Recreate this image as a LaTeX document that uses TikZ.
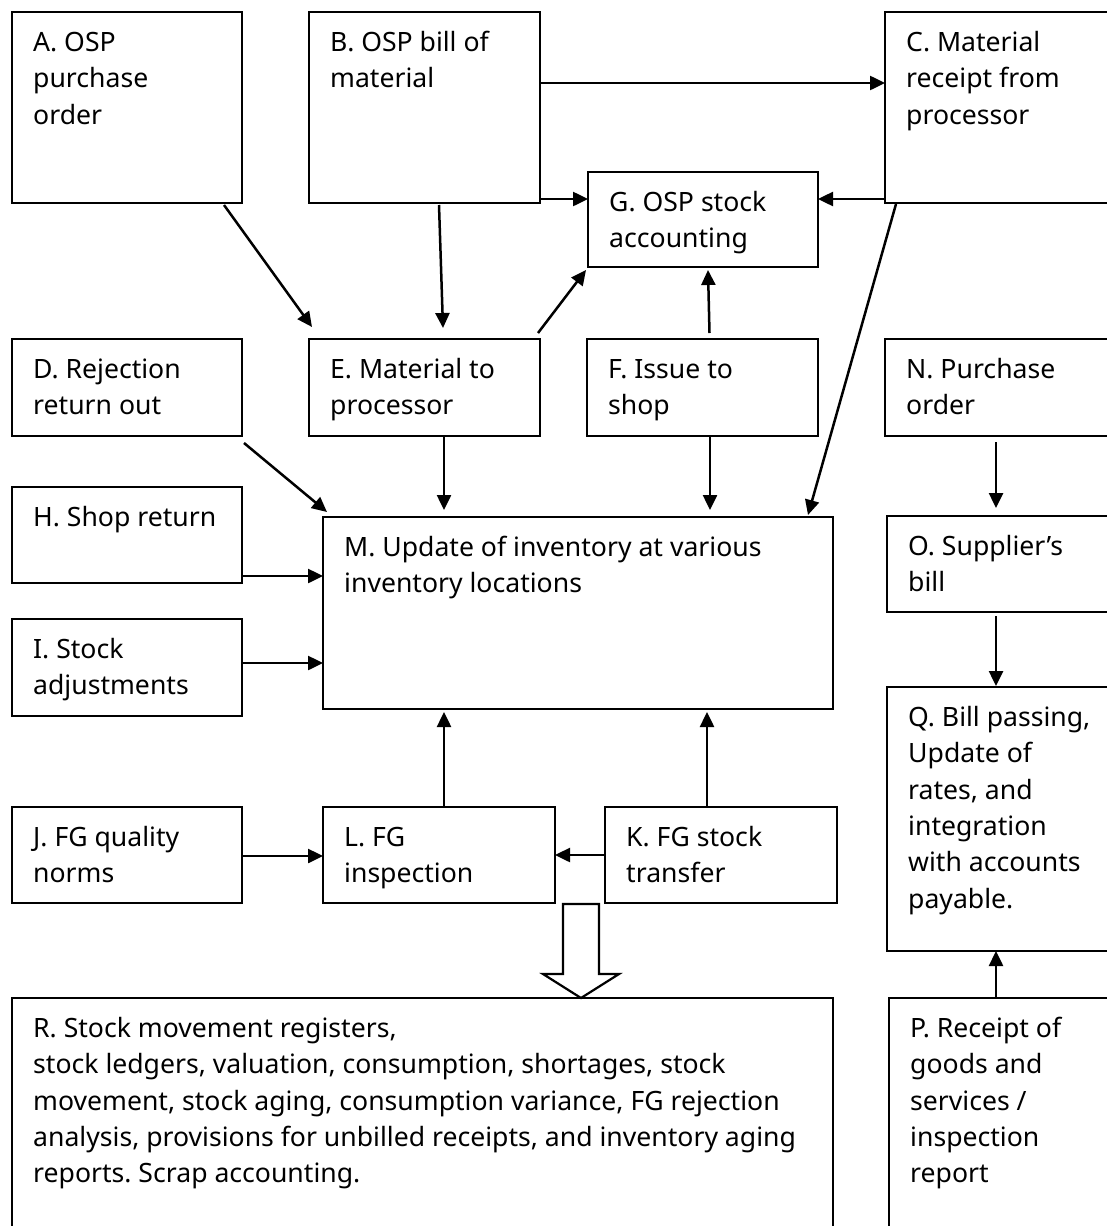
\documentclass[tikz,border=0pt]{standalone}
\usepackage{fontspec}
\setmainfont{Noto Sans}
\usetikzlibrary{arrows.meta,calc}

% process box: name, left, top, right, bottom, text (page units, y grows downward)
\newcommand\procbox[6]{%
  \node[box, minimum width={(#4-#2)*1pt}, minimum height={(#5-#3)*1pt}] (#1) at (#2,-#3) {};
  \node[lbl] (#1t) at ($(#1.north west)+(21,-39.5)$)
    {\begin{tabular}[t]{@{}l@{}}#6\end{tabular}};}

\begin{document}
\frenchspacing
\begin{tikzpicture}[x=1pt,y=1pt,
  box/.style={draw, line width=2.9pt, rectangle, inner sep=0pt, outer sep=0pt, anchor=north west},
  lbl/.style={anchor=base west, inner sep=0pt,
              font=\fontsize{26.6}{36.3}\selectfont},
  arr/.style={line width=2.5pt, -{Triangle[length=15pt,width=14pt]}},
  hollow/.style={draw, line width=2.2pt, line join=miter, fill=white}]

\fill[white] (0,0) rectangle (1107,-1226);
\clip (0,0) rectangle (1107,-1226);

% boxes
\procbox{A}{12}{12}{242}{203}{A. OSP\\purchase\\order}
\procbox{B}{309}{12}{540}{203}{B. OSP bill of\\material}
\procbox{C}{885}{12}{1125}{203}{C. Material\\receipt from\\processor}
\procbox{G}{588}{172}{818}{267}{G. OSP stock\\accounting}
\procbox{D}{12}{339}{242}{436}{D. Rejection\\return out}
\procbox{E}{309}{339}{540}{436}{E. Material to\\processor}
\procbox{F}{587}{339}{818}{436}{F. Issue to\\shop}
\procbox{N}{885}{339}{1125}{436}{N. Purchase\\order}
\procbox{H}{12}{487}{242}{583}{H. Shop return}
\procbox{M}{323}{517}{833}{709}{M. Update of inventory at various\\inventory locations}
\procbox{O}{887}{516}{1125}{612}{O. Supplier’s\\bill}
\procbox{I}{12}{619}{242}{716}{I. Stock\\adjustments}
\procbox{Q}{887}{687}{1125}{951}{Q. Bill passing,\\Update of\\rates, and\\integration\\with accounts\\payable.}
\procbox{J}{12}{807}{242}{903}{J. FG quality\\norms}
\procbox{L}{323}{807}{555}{903}{L. FG\\inspection}
\procbox{K}{605}{807}{837}{903}{K. FG stock\\transfer}
\procbox{R}{12}{998}{833}{1245}{R. Stock movement registers,\\stock ledgers, valuation, consumption, shortages, stock\\movement, stock aging, consumption variance, FG rejection\\analysis, provisions for unbilled receipts, and inventory aging\\reports. Scrap accounting.}
\procbox{P}{889}{998}{1125}{1245}{P. Receipt of\\goods and\\services /\\inspection\\report}

% connectors
\draw[arr] ($(B.east)+(0,24.5)$) -- ($(C.west)+(0,24.5)$);
\draw[arr] ($(B.east)+(0,-91.5)$) coordinate (bg) -- (bg -| G.west);
\draw[arr] ($(C.west)+(0,-91.5)$) coordinate (cg) -- (cg -| G.east);
\draw[arr] ($(A.south west)+(212,-2)$) -- ($(E.north west)+(3,12)$);
\draw[arr] ($(B.south west)+(130,-2)$) -- ($(E.north west)+(134,11)$);
\draw[arr] ($(E.north east)+(-2,6)$) -- ($(G.south west)+(-2,-3)$);
\draw[arr] ($(F.north)+(7,6)$) -- ($(G.south)+(5,-3)$);
\draw[arr] ($(C.south west)+(11,-1)$) -- ($(M.north east)+(-25,2)$);
\draw[arr] ($(D.south east)+(2,-7)$) -- ($(M.north west)+(4,5)$);
\draw[arr] ($(E.south)+(19.5,0)$) coordinate (em) -- ($(em |- M.north)+(0,7)$);
\draw[arr] ($(F.south)+(7.5,0)$) coordinate (fm) -- ($(fm |- M.north)+(0,7)$);
\draw[arr] ($(H.east)+(0,-41)$) coordinate (hm) -- (hm -| M.west);
\draw[arr] ($(I.east)+(0,4.5)$) coordinate (im) -- (im -| M.west);
\draw[arr] ($(L.north)+(5,0)$) coordinate (lm) -- ($(lm |- M.south)+(0,-3)$);
\draw[arr] ($(K.north)+(-14,0)$) coordinate (km) -- ($(km |- M.south)+(0,-3)$);
\draw[arr] ($(J.east)+(0,-1)$) coordinate (jl) -- (jl -| L.west);
\draw[arr] (K.west) -- (K.west -| L.east);
\draw[arr] ($(N.south west)+(111,-6)$) coordinate (no) -- ($(no |- O.north)+(0,8)$);
\draw[arr] ($(O.south west)+(109,-4)$) coordinate (oq) -- ($(oq |- Q.north)+(0,1)$);
\draw[arr] ($(P.north west)+(107,0)$) coordinate (pq) -- (pq |- Q.south);

% hollow block arrow into the reports box
\draw[hollow] (563,-904) -- (599,-904) -- (599,-974) -- (619,-974)
  -- (581,-998) -- (543,-974) -- (563,-974) -- cycle;

\end{tikzpicture}
\end{document}
